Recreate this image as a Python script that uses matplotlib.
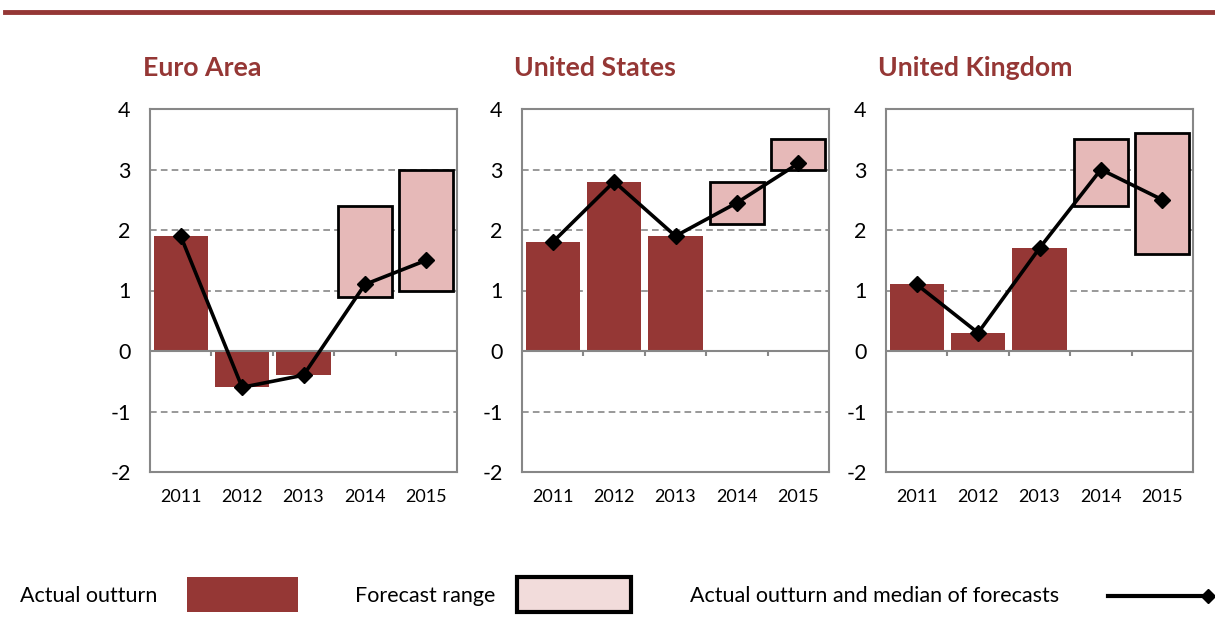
import numpy as np
import matplotlib
matplotlib.use("Agg")
import matplotlib.pyplot as plt
from matplotlib.patches import Rectangle
from matplotlib.lines import Line2D

plt.rcParams["font.family"] = ["Lato", "DejaVu Sans"]

years = ["2011", "2012", "2013", "2014", "2015"]
regions = ["Euro Area", "United States", "United Kingdom"]

# actual outturn (bars) for 2011-2013
actual_ea = [1.9, -0.6, -0.4]
actual_us = [1.8, 2.8, 1.9]
actual_uk = [1.1, 0.3, 1.7]

# forecast range (low, high) for 2014-2015
range_low_ea = [0.9, 1.0]
range_high_ea = [2.4, 3.0]
range_low_us = [2.1, 3.0]
range_high_us = [2.8, 3.5]
range_low_uk = [2.4, 1.6]
range_high_uk = [3.5, 3.6]

# actual outturn and median of forecasts (line)
median_ea = [1.9, -0.6, -0.4, 1.1, 1.5]
median_us = [1.8, 2.8, 1.9, 2.45, 3.1]
median_uk = [1.1, 0.3, 1.7, 3.0, 2.5]

y_ticks = [-2, -1, 0, 1, 2, 3, 4]

DARK_RED = "#953735"
PINK = "#E6B9B8"
PINK_LIGHT = "#F2DCDB"
GREY = "#878787"

panels = [
    (actual_ea, range_low_ea, range_high_ea, median_ea),
    (actual_us, range_low_us, range_high_us, median_us),
    (actual_uk, range_low_uk, range_high_uk, median_uk),
]

W, H = 1215, 629
fig = plt.figure(figsize=(W / 100, H / 100), dpi=100)

lefts = [150, 522, 886]
title_x = [143, 514, 878]
for i, (actual, low, high, med) in enumerate(panels):
    ax = fig.add_axes([lefts[i] / W, (H - 472) / H, 307 / W, 363 / H])
    x = np.arange(len(years))
    n_act = len(actual)
    ax.bar(x[:n_act], actual, width=0.88, color=DARK_RED, zorder=2)
    lo = np.array(low)
    hi = np.array(high)
    ax.bar(x[n_act:], hi - lo, bottom=lo, width=0.88, color=PINK,
           edgecolor="black", linewidth=2, zorder=2)
    ax.plot(x, med, color="black", lw=2.6, marker="D", markersize=8, zorder=4)

    ax.set_ylim(-2, 4)
    ax.set_xlim(-0.5, len(years) - 0.5)
    ax.set_yticks(y_ticks)
    ax.set_yticklabels([str(t) for t in y_ticks], fontsize=15.5)
    ax.set_xticks(x)
    ax.set_xticklabels(years, fontsize=13)
    ax.tick_params(axis="both", length=0)
    ax.tick_params(axis="y", pad=14)
    ax.tick_params(axis="x", pad=12)
    for t in [-1, 1, 2, 3]:
        ax.axhline(t, color=GREY, lw=1.2, ls=(0, (4, 2.5)), zorder=1)
    ax.axhline(0, color=GREY, lw=1.5, zorder=3)
    ax.vlines(x[:-1] + 0.5, -0.08, 0, color=GREY, lw=1.5, zorder=3)
    for s in ax.spines.values():
        s.set_color(GREY)
        s.set_linewidth(1.5)

    fig.text(title_x[i] / W, 1 - 68 / H, regions[i], fontsize=19.3,
             fontweight="bold", color=DARK_RED, va="center", ha="left")

# top rule
fig.add_artist(Line2D([5 / W, 1.0], [1 - 12 / H] * 2, color=DARK_RED, lw=3.5))

# legend row
ly = 1 - 596 / H
fig.text(20 / W, ly, "Actual outturn", fontsize=15.5, va="center")
fig.add_artist(Rectangle((187 / W, 1 - 612 / H), 111 / W, 35 / H,
                         transform=fig.transFigure, facecolor=DARK_RED,
                         edgecolor="none"))
fig.text(355 / W, ly, "Forecast range", fontsize=15.5, va="center")
fig.add_artist(Rectangle((517 / W, 1 - 612 / H), 114 / W, 35 / H,
                         transform=fig.transFigure, facecolor=PINK_LIGHT,
                         edgecolor="black", linewidth=3))
fig.text(690 / W, ly, "Actual outturn and median of forecasts", fontsize=15.5,
         va="center")
fig.add_artist(Line2D([1108 / W, 1208 / W], [ly, ly], color="black", lw=3))
fig.add_artist(Line2D([1208 / W], [ly], color="black", marker="D",
                      markersize=7))

fig.savefig("out.png", dpi=100)
